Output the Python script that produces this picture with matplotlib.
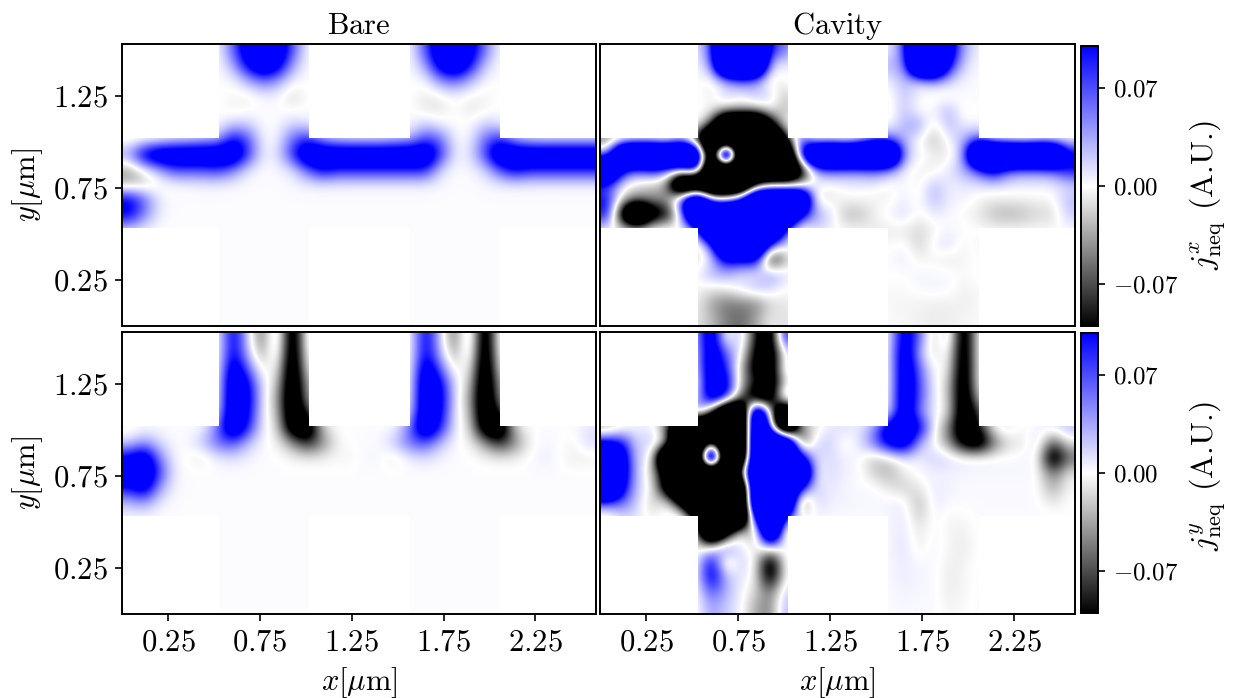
import numpy as np
import matplotlib
matplotlib.use("Agg")
import matplotlib.pyplot as plt
from matplotlib.colors import LinearSegmentedColormap
from matplotlib.path import Path

plt.rcParams['font.family'] = ['cmr10', 'DejaVu Sans']
plt.rcParams['mathtext.fontset'] = 'cm'
plt.rcParams['axes.formatter.use_mathtext'] = True
plt.rcParams['axes.unicode_minus'] = False


def arms(a, b, bg=0):
    # rows above/below the horizontal bar only carry values in the two vertical arms
    return [bg]*6 + a + [bg]*6 + b + [bg]*6


# values in % of the colour limit (0.1), rows from top to bottom
bare_x = [
    arms([0, 60, 140, 170, 150, 70, 1], [1, 70, 150, 170, 130, 55, 1]),
    arms([0, 30, 110, 170, 130, 35, 1], [1, 35, 130, 170, 100, 20, 1]),
    arms([1, 2, 30, 60, 40, 5, 1], [1, 2, 45, 60, 30, 2, 1]),
    arms([1, -3, -5, 5, 5, -15, 1], [1, -8, -5, 5, -3, -5, 1]),
    arms([1, -6, -3, 1, 1, -3, 1], [1, -10, -10, 1, -10, -4, 1]),
    arms([1, 20, 20, 1, 1, 20, 10], [3, 20, 5, 1, 1, 20, 10]),
    [-10, -8, -3, 10, 15, 25, 30, 110, 70, 3, 3, 60, 90, 40, 20, 15, 15, 15, 25, 30, 80, 60, 3, 3, 60, 90, 35, 15, 12, 12, 12, 12],
    [40, 130, 170, 170, 170, 170, 170, 170, 80, 5, 10, 80, 170, 170, 170, 170, 170, 170, 170, 170, 170, 80, 5, 10, 70, 170, 170, 170, 170, 170, 170, 170],
    [-35, -5, 30, 70, 70, 70, 80, 50, 10, 1, 3, 10, 60, 110, 90, 90, 90, 90, 90, 90, 90, 15, 1, 3, 15, 70, 110, 90, 90, 90, 90, 90],
    [-30, -20, -5, 1, 3, 5, 5, 3, 1, 1, 1, 3, 5, 6, 5, 5, 5, 5, 5, 5, 5, 3, 1, 1, 3, 5, 6, 5, 5, 5, 5, 5],
    [110, 60, 8] + [1]*29,
    [110, 50, 6] + [1]*29,
    [15, 5] + [1]*30,
    [1]*32, [1]*32, [1]*32, [1]*32, [1]*32, [1]*32,
]

bare_y = [
    arms([-5, 120, 15, -60, 50, -170, 25], [-5, 120, 15, -60, 50, -170, 25]),
    arms([-5, 120, 25, -40, 35, -170, 15], [-5, 120, 25, -40, 35, -170, 15]),
    arms([-3, 150, 60, -15, 8, -170, -3], [-3, 150, 60, -15, 8, -170, -3]),
    arms([0, 170, 110, 5, -15, -170, -30], [0, 170, 110, 5, -15, -170, -30]),
    arms([3, 170, 120, 8, -30, -170, -40], [3, 170, 120, 8, -30, -170, -40]),
    arms([15, 170, 110, 5, -20, -170, -90], [15, 170, 110, 5, -20, -170, -90]),
    [-6, 1, 1, 1, 1, 1, 60, 170, 90, 3, -10, -150, -170, -20, 1, 1, 1, 1, 1, 60, 170, 90, 3, -10, -150, -170, -20, 1, 1, 1, 1, 10],
    [15, 40, 15, 1, 3, 25, 60, 70, 25, 1, -3, -40, -90, -50, -5, 1, 1, 3, 25, 60, 70, 25, 1, -3, -40, -90, -50, -5, 4, 1, -4, 15],
    [110, 150, 50, 4, -3, -10, 8, 12, 5, 1, 1, -3, -6, -5, -2, -5, 6, 1, -10, 8, 12, 5, 1, 1, -3, -6, -5, 1, 8, 1, -8, -6],
    [150, 170, 80, 6] + [1]*28,
    [100, 140, 40, 4] + [1]*28,
    [25, 40, 8] + [1]*29,
    [3] + [1]*31,
    [1]*32, [1]*32, [1]*32, [1]*32, [1]*32, [1]*32,
]

cavity_x = [
    arms([8, 60, 170, 170, 170, 80, 60], [5, 60, 170, 170, 150, 30, 5]),
    arms([5, 30, 170, 170, 170, 10, 5], [40, 30, 170, 170, 100, 15, 2]),
    arms([3, -5, 25, 60, 40, -15, 5], [5, 30, 15, 40, 20, 3, 2]),
    arms([5, -12, 20, 3, 25, 15, -25], [-5, 25, 3, -8, -8, 3, 2]),
    arms([3, 0, -15, -20, -20, 0, -30], [-10, 25, -5, 5, 30, -8, 2]),
    arms([10, -60, -170, -170, -170, -130, 10], [-3, 30, 40, -15, 30, 5, 2]),
    [-60, -15, -5, -5, -30, 30, -100, -170, -170, -170, -170, -170, -120, 80, -20, -5, -25, 0, 60, 60, 30, -3, -25, 3, 30, 70, 5, -5, -20, -3, -3, 0],
    [40, 170, 170, 170, 170, 170, 170, -170, 300, -170, -170, -170, -170, 100, 170, 170, 170, 170, 170, 170, 30, 5, -5, -12, 30, 170, 170, 170, 170, 170, 170, 120],
    [170, 100, 60, 90, 60, 40, 130, -170, -170, -170, -170, -170, -170, -150, 30, 60, 50, 50, 60, 40, 5, -5, -10, 10, 30, 70, 130, 60, 50, 50, 60, 100],
    [70, 8, -15, -25, -40, -170, -170, -170, -170, -170, -100, -30, -40, -40, 10, -5, 5, 5, 5, -5, 5, -8, 25, 5, 10, 8, 12, 8, 6, 5, 6, 15],
    [100, -20, -40, -40, -40, 80, 170, 30, 20, 100, 170, 170, 170, 170, -15, -8, -3, -3, -5, -5, 8, -5, 30, 5, 5, -3, -8, -6, -5, -4, -3, 25],
    [100, -140, -170, -150, -120, 30, 170, 170, 170, 170, 170, 170, 170, 120, 40, 15, -25, -25, -5, 5, 15, -5, 8, 3, -3, -8, -25, -30, -25, -15, -15, 20],
    [5, -5, -8, 15, 20, -8, 50, 170, 170, 170, 170, 170, 80, -30, 15, 5, -3, -3, -8, -8, -8, -15, -5, 3, 3, -2, -2, -2, -2, -2, -2, 2],
    arms([-25, 60, 170, 170, 170, 70, 15], [-3, 3, -20, 5, 15, -8, 8]),
    arms([-20, 10, 120, 100, 120, -120, -30], [2, 8, -5, -3, -10, -3, 0]),
    arms([2, 30, 30, 10, 3, 40, 15], [0, 0, 5, 3, 3, -3, 3]),
    arms([-3, -10, -5, 10, 30, 15, -3], [-2, -2, 3, 5, 3, -6, -2]),
    arms([-5, -35, -55, -50, -50, -15, -10], [-3, -4, -5, -7, -6, -6, -3]),
    arms([-10, -25, -50, -60, -35, -5, -15], [-2, -3, -5, -7, -6, -4, -2]),
]

cavity_y = [
    arms([30, 160, -20, 40, -100, -160, 130], [0, 140, 60, -30, 40, -160, 8]),
    arms([15, 160, 60, 10, -120, -160, 20], [0, 160, 30, -20, 15, -160, 8]),
    arms([15, 160, 90, -25, -130, -160, 40], [-2, 160, 60, -5, 3, -160, 5]),
    arms([-10, 160, 130, -30, -90, -160, -5], [-3, 160, 70, 3, -15, -160, 5]),
    arms([10, 160, 100, -60, -160, -160, 80], [2, 160, 70, 5, -15, -160, -20]),
    arms([60, -70, -170, -170, 170, -20, -170], [5, 160, 50, 5, -10, -160, -80]),
    [-40, -10, 5, 10, -60, -170, -170, -170, -170, -170, 170, 60, -170, -50, -10, 10, 15, 5, 40, 150, 160, 120, 2, -50, -160, -100, 5, 15, -5, 5, 15, 30],
    [100, 100, 10, 25, -5, -170, -170, -40, -170, -170, 170, 170, 170, -80, 15, 20, -8, 10, 60, 130, 160, 30, 0, -40, -130, -160, -60, -15, -10, 20, -70, -10],
    [170, 140, 10, 15, -170, -170, -170, 260, -170, -170, 170, 170, 170, 120, 10, 15, 5, 3, -25, -15, 8, 5, 20, 15, 8, 8, 5, 3, 3, 5, -150, -60],
    [170, 140, 20, -15, -150, -170, -170, -170, -170, -60, 170, 170, 170, 170, -3, 15, 5, 3, -20, -30, -5, 3, 5, 5, 3, 3, 3, 3, 3, 3, -60, -10],
    [170, 120, 15, 5, -150, -170, -170, -170, -170, -170, 170, 170, 170, 100, 10, 10, 3, 2, 2, -10, -20, -8, 8, 5, 2, 2, 2, 2, 2, 2, -35, -2],
    [70, 60, 20, -25, 5, -130, -170, -170, -170, -170, 170, 170, 170, -80, 20, 5, 5, 3, 3, 5, 8, -30, 10, 2, 2, 2, 2, 2, 2, 2, -10, 0],
    [-20, 15, 10, -5, 5, 40, -110, -170, -170, -170, 150, 170, 90, 2, 2, 2, 2, 2, 2, 2, 10, -20, 5, -4, -2, 2, 2, 2, 2, 2, 2, 0],
    arms([-15, -170, -150, 20, -70, 170, -60], [3, 10, -10, 4, -4, -6, 1]),
    arms([-8, -5, 70, 2, -8, 20, 5], [3, 12, -8, 5, -4, -8, 1]),
    arms([-5, 120, -40, 25, -5, -150, 15], [3, 8, 2, 4, -6, -5, 2]),
    arms([-3, 130, 25, 10, -5, -140, 10], [2, 8, 3, 3, -8, -4, 2]),
    arms([-3, 70, 30, 5, -15, -60, 30], [2, 5, 3, 3, -8, -3, 2]),
    arms([-5, 40, 20, 5, -35, -50, 40], [2, 3, 2, 2, -4, -2, 2]),
]

x_ticks = [0.25, 0.75, 1.25, 1.75, 2.25]
y_ticks = [0.25, 0.75, 1.25]
cbar_ticks = [-0.07, 0.0, 0.07]
titles = ['Bare', 'Cavity']

W, H = 1245, 698
x_max, y_max = 2.58, 1.53
bar_y = (0.53, 1.02)      # horizontal bar of the cross
arm_x = [(0.53, 1.02), (1.565, 2.06)]

cmap = LinearSegmentedColormap.from_list('bwk', ['black', 'white', 'blue'], N=512)

fig = plt.figure(figsize=(W/100, H/100), dpi=100)


def px_axes(x0, y0, x1, y1):
    return fig.add_axes([x0/W, 1-y1/H, (x1-x0)/W, (y1-y0)/H])


def rect(x0, x1, y0, y1):
    return Path([(x0, y0), (x1, y0), (x1, y1), (x0, y1), (x0, y0)])


def panel(box, vals, left, bottom, steep=False):
    ax = px_axes(*box)
    arr = np.array(vals, dtype=float)/100*0.1
    if steep:
        # saturated cells: sharper black/blue edges
        arr[np.abs(arr) >= 0.17] *= 2
    im = ax.imshow(arr, cmap=cmap, vmin=-0.1, vmax=0.1, aspect='auto',
                   extent=(0, x_max, 0, y_max), interpolation='bicubic', interpolation_stage='data')
    cross = Path.make_compound_path(rect(0, x_max, *bar_y),
                                    rect(*arm_x[0], 0, y_max), rect(*arm_x[1], 0, y_max))
    im.set_clip_path(cross, transform=ax.transData)
    ax.set_xlim(0, x_max)
    ax.set_ylim(0, y_max)
    ax.set_xticks(x_ticks if bottom else [])
    ax.set_yticks(y_ticks if left else [])
    ax.set_xticklabels(['$%.2f$' % v for v in x_ticks] if bottom else [])
    ax.set_yticklabels(['$%.2f$' % v for v in y_ticks] if left else [])
    ax.tick_params(labelsize=22, length=5, width=1.2)
    ax.tick_params(axis='x', pad=6)
    ax.tick_params(axis='y', pad=5)
    for s in ax.spines.values():
        s.set_linewidth(1.4)
    if left:
        ax.set_ylabel(r'$y[\mu\mathrm{m}]$', fontsize=22, va='center')
        ax.yaxis.set_label_coords(-0.2, 0.5)
    if bottom:
        ax.set_xlabel(r'$x[\mu\mathrm{m}]$', fontsize=22, va='center')
        ax.xaxis.set_label_coords(0.5, -0.243)
    return ax, im


ax, im1 = panel((122, 44, 596, 326), bare_x, True, False)
ax.set_title(r'$\mathrm{%s}$' % titles[0], fontsize=22, pad=7)
ax, im2 = panel((600, 44, 1075, 326), cavity_x, False, False, steep=True)
ax.set_title(r'$\mathrm{%s}$' % titles[1], fontsize=22, pad=7)
panel((122, 332, 596, 614), bare_y, True, True)
panel((600, 332, 1075, 614), cavity_y, False, True, steep=True)

for box, label, ypos in [((1081, 46, 1098, 326), r'$j^{x}_{\mathrm{neq}}$ (A.U.)', 195),
                         ((1081, 333, 1098, 613), r'$j^{y}_{\mathrm{neq}}$ (A.U.)', 476)]:
    cax = px_axes(*box)
    cb = fig.colorbar(im1, cax=cax)
    cb.set_ticks(cbar_ticks)
    cb.set_ticklabels(['$%.2f$' % v for v in cbar_ticks])
    cb.ax.tick_params(labelsize=18, length=5, width=1.2, pad=6)
    cb.outline.set_linewidth(1.4)
    fig.text(1207/W, 1-ypos/H, label, rotation=90, fontsize=23, ha='center', va='center')

fig.savefig('out.png', dpi=100)
